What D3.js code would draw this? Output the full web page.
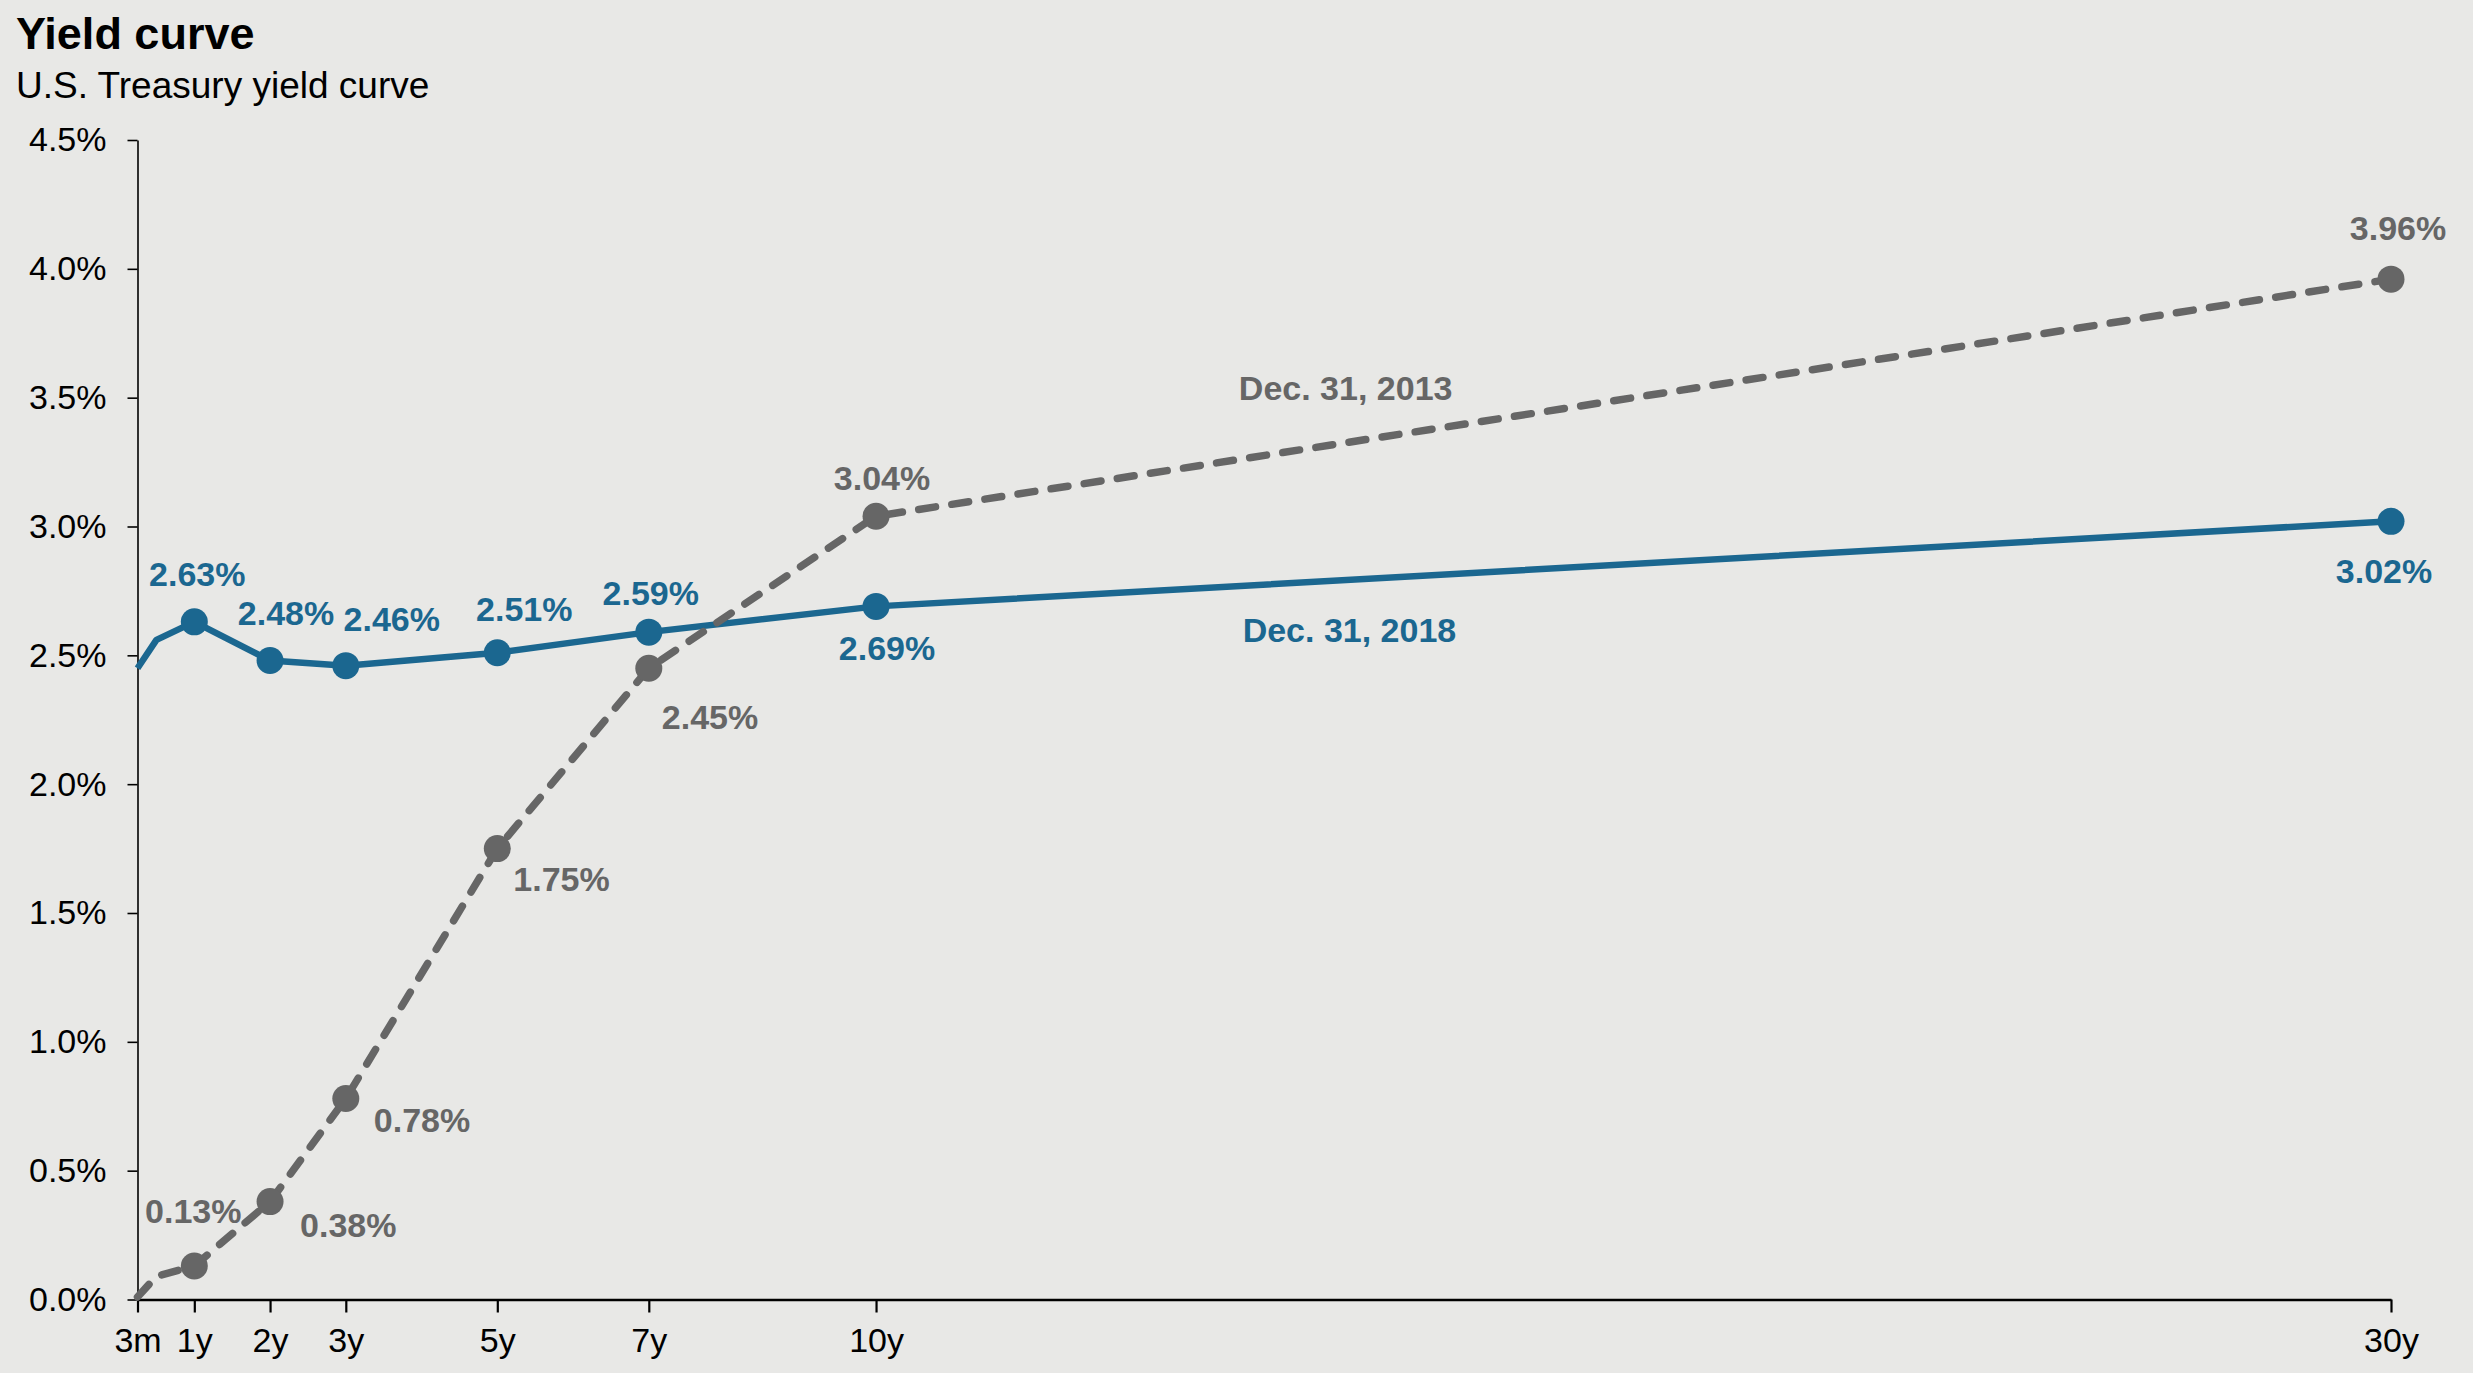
<!DOCTYPE html>
<meta charset="utf-8">
<style>
    body { margin: 0; background: #e8e8e6; }
    text { font-family: "Liberation Sans", Arial, sans-serif; }
</style>
<script src="https://d3js.org/d3.v7.min.js"></script>
<body>
<script>

    // maturities in years
    var maturities = [0.25, 0.5, 1, 2, 3, 5, 7, 10, 30]
    var yields2018 = [2.45, 2.56, 2.63, 2.48, 2.46, 2.51, 2.59, 2.69, 3.02]
    var yields2013 = [0.01, 0.09, 0.13, 0.38, 0.78, 1.75, 2.45, 3.04, 3.96]
    var seriesNames = ["Dec. 31, 2018", "Dec. 31, 2013"]

    var xTicks = [0.25, 1, 2, 3, 5, 7, 10, 30]
    var xTickLabels = ["3m", "1y", "2y", "3y", "5y", "7y", "10y", "30y"]
    var yTicks = [0, 0.5, 1, 1.5, 2, 2.5, 3, 3.5, 4, 4.5]

    var width = 2473
    var height = 1373
    var blue = "#1b6790"
    var grey = "#666666"

    // label placement for the marked points (1y onwards), [dx, dy, anchor]
    var labelPos2018 = [[3, -36, "middle"], [16, -35, "middle"], [46, -35, "middle"], [27, -32, "middle"],
        [2, -27, "middle"], [11, 54, "middle"], [-7, 62, "middle"]]
    var labelPos2013 = [[-1, -43, "middle"], [30, 35, "start"], [28, 33, "start"], [16, 42, "start"],
        [13, 61, "start"], [6, -26, "middle"], [7, -39, "middle"]]

    var svg = d3.select("body")
        .append("svg")
        .attr("width", width)
        .attr("height", height)

    svg.append("rect")
        .attr("width", width)
        .attr("height", height)
        .attr("fill", "#e8e8e6")

    svg.append("text")
        .text("Yield curve")
        .attr("x", 16)
        .attr("y", 49)
        .attr("font-size", "45px")
        .attr("font-weight", "bold")

    svg.append("text")
        .text("U.S. Treasury yield curve")
        .attr("x", 16)
        .attr("y", 98)
        .attr("font-size", "37px")

    var x = d3.scaleLinear()
        .domain([0.25, 30])
        .range([137.5, 2391])

    var y = d3.scaleLinear()
        .domain([0, 4.5])
        .range([1299.5, 140])

    // y axis
    var yAxis = svg.append("g")
        .attr("transform", "translate(137.5,0)")
        .call(d3.axisLeft(y)
            .tickValues(yTicks)
            .tickFormat(function (d) { return d3.format(".1f")(d) + "%" })
            .tickSize(10)
            .tickPadding(21)
            .tickSizeOuter(0))
    yAxis.selectAll("text")
        .attr("font-size", "34px")
        .attr("font-family", "Liberation Sans, Arial, sans-serif")
        .attr("fill", "black")
    yAxis.selectAll("line, path")
        .attr("stroke", "black")
        .attr("stroke-width", 1.6)

    // x axis
    var xAxis = svg.append("g")
        .attr("transform", "translate(0,1299.5)")
        .call(d3.axisBottom(x)
            .tickValues(xTicks)
            .tickFormat(function (d, i) { return xTickLabels[i] })
            .tickSize(13)
            .tickPadding(15)
            .tickSizeOuter(0))
    xAxis.selectAll("text")
        .attr("font-size", "34px")
        .attr("font-family", "Liberation Sans, Arial, sans-serif")
        .attr("fill", "black")
    xAxis.selectAll("line")
        .attr("stroke", "black")
        .attr("stroke-width", 2.2)
    xAxis.select("path")
        .attr("stroke", "black")
        .attr("stroke-width", 2.5)

    var line = d3.line()
        .x(function (d) { return x(d[0]) })
        .y(function (d) { return y(d[1]) })

    var pts2018 = d3.zip(maturities, yields2018)
    var pts2013 = d3.zip(maturities, yields2013)

    svg.append("path")
        .datum(pts2018)
        .attr("d", line)
        .attr("fill", "none")
        .attr("stroke", blue)
        .attr("stroke-width", 6.5)
        .attr("stroke-linejoin", "round")

    svg.append("path")
        .datum(pts2013)
        .attr("d", line)
        .attr("fill", "none")
        .attr("stroke", grey)
        .attr("stroke-width", 7.5)
        .attr("stroke-dasharray", "17 16.5")
        .attr("stroke-linecap", "round")
        .attr("stroke-linejoin", "round")

    function drawPoints(pts, color, labelPos) {
        var marked = pts.filter(function (d) { return d[0] >= 1 })

        svg.selectAll(null)
            .data(marked)
            .enter()
            .append("circle")
            .attr("cx", function (d) { return x(d[0]) })
            .attr("cy", function (d) { return y(d[1]) })
            .attr("r", 13.5)
            .attr("fill", color)

        svg.selectAll(null)
            .data(marked)
            .enter()
            .append("text")
            .text(function (d) { return d3.format(".2f")(d[1]) + "%" })
            .attr("x", function (d, i) { return x(d[0]) + labelPos[i][0] })
            .attr("y", function (d, i) { return y(d[1]) + labelPos[i][1] })
            .attr("text-anchor", function (d, i) { return labelPos[i][2] })
            .attr("font-size", "34px")
            .attr("font-weight", "bold")
            .attr("fill", color)
    }

    drawPoints(pts2018, blue, labelPos2018)
    drawPoints(pts2013, grey, labelPos2013)

    // series names
    svg.append("text")
        .text(seriesNames[0])
        .attr("x", x(16.25))
        .attr("y", y(2.55))
        .attr("text-anchor", "middle")
        .attr("font-size", "34px")
        .attr("font-weight", "bold")
        .attr("fill", blue)

    svg.append("text")
        .text(seriesNames[1])
        .attr("x", x(16.2))
        .attr("y", y(3.49))
        .attr("text-anchor", "middle")
        .attr("font-size", "34px")
        .attr("font-weight", "bold")
        .attr("fill", grey)

</script>
</body>
